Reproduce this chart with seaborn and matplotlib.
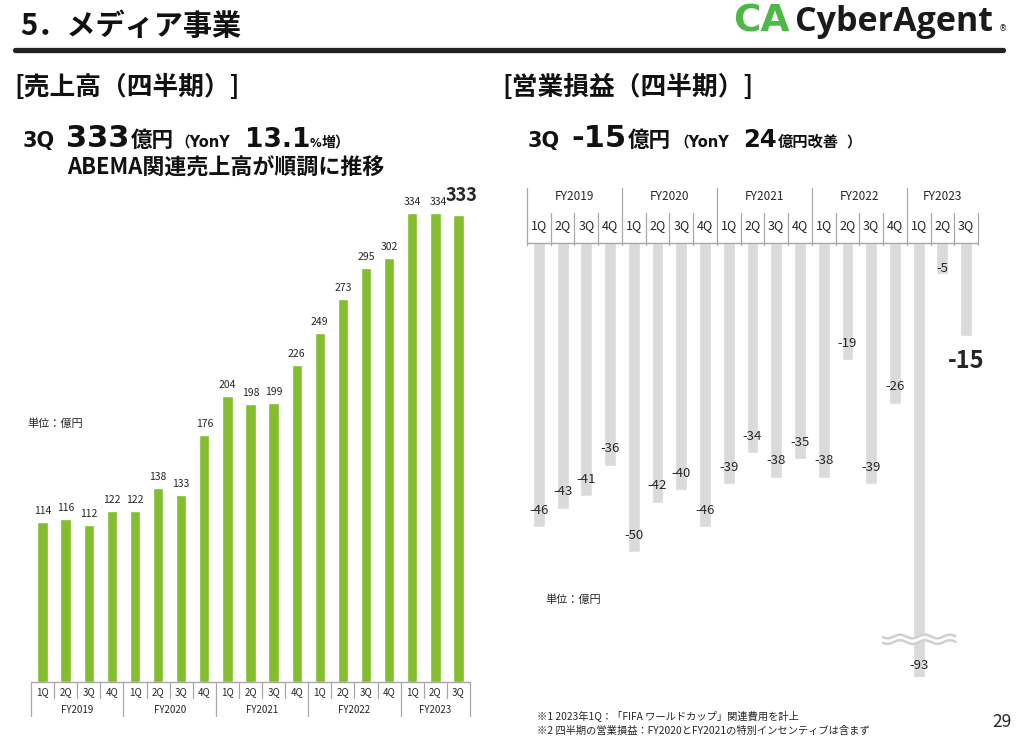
import matplotlib
matplotlib.use("Agg")
import matplotlib.pyplot as plt
import matplotlib.transforms as mtransforms
import numpy as np
import pandas as pd
import seaborn as sns

# data
fiscal_years = ["FY2019", "FY2020", "FY2021", "FY2022", "FY2023"]
quarters_per_year = [4, 4, 4, 4, 3]
quarter_names = ["1Q", "2Q", "3Q", "4Q"]
revenue = [114, 116, 112, 122, 122, 138, 133, 176, 204, 198, 199, 226,
           249, 273, 295, 302, 334, 334, 333]
op_income = [-46, -43, -41, -36, -50, -42, -40, -46, -39, -34, -38, -35,
             -38, -19, -39, -26, -93, -5, -15]

quarters = []
years = []
for fy, n in zip(fiscal_years, quarters_per_year):
    quarters += quarter_names[:n]
    years += [fy] * n
periods = [f"{y} {q}" for y, q in zip(years, quarters)]

df = pd.DataFrame({"period": periods, "fy": years, "quarter": quarters,
                   "revenue": revenue, "op_income": op_income})

sns.set_theme(style="white")
plt.rcParams["font.family"] = ["Noto Sans CJK JP", "DejaVu Sans"]
LATIN = ["DejaVu Sans", "Noto Sans CJK JP"]

W, H = 1019, 741
fig = plt.figure(figsize=(W / 100, H / 100), dpi=100)
fig.patch.set_facecolor("white")


def fx(x):
    return x / W


def fy(y):
    return 1 - y / H


GREEN = "#84BD2E"
GREY_BAR = "#DADADA"
SEP = "#A8A8A8"
INK = "#111111"

# ---------- header ----------
fig.text(fx(20), fy(35), "5．メディア事業", fontsize=21, fontweight="bold",
         va="baseline", color=INK)
fig.add_artist(plt.Line2D([fx(15), fx(1003)], [fy(50), fy(50)], color="#222222",
                          lw=3.8, transform=fig.transFigure))
fig.text(fx(790), fy(32), "CA", fontsize=27, fontweight="bold", color="#4DB848",
         ha="right", va="baseline", family=["DejaVu Sans"])
fig.text(fx(795), fy(31), "CyberAgent", fontsize=24.5, fontweight="bold",
         color="#1a1a1a", ha="left", va="baseline", family=["Open Sans", "DejaVu Sans"])
fig.text(fx(999), fy(31), "®", fontsize=6, ha="left", va="baseline", color="#1a1a1a",
         family=["DejaVu Sans"])

fig.text(fx(14), fy(87), "[売上高（四半期）]", fontsize=18.5, fontweight="bold",
         va="center", color=INK)
fig.text(fx(502), fy(87), "[営業損益（四半期）]", fontsize=18.5, fontweight="bold",
         va="center", color=INK)


def headline(y, pieces):
    # mixed-size pieces, each set at its own x on a common baseline
    for x, s, size in pieces:
        fig.text(fx(x), fy(y), s, fontsize=size, fontweight="bold",
                 va="baseline", ha="left", color=INK, family=LATIN)


headline(147, [(23, "3Q", 15), (66, "333", 22), (131, "億円", 15.5),
               (175, "（YonY", 10.5), (245, "13.1", 19),
               (310, "%", 8.5), (322, "増", 10), (334, "）", 10.5)])
fig.text(fx(67), fy(175), "ABEMA関連売上高が順調に推移", fontsize=15.8,
         fontweight="bold", va="baseline", color=INK)
headline(147, [(528, "3Q", 15), (571, "-15", 22), (628, "億円", 15.5),
               (674, "（YonY", 10.5), (743, "24", 17.5),
               (778, "億円改善", 11), (846, "）", 10.5)])

n = len(df)
year_edges = np.cumsum([0] + quarters_per_year) - 0.5
year_centers = [(a + b) / 2 for a, b in zip(year_edges[:-1], year_edges[1:])]

# ---------- left: revenue ----------
ax1 = fig.add_axes([fx(31), fy(682), 439 / W, 492 / H])
sns.barplot(data=df, x="period", y="revenue", order=periods, color=GREEN,
            saturation=1, width=0.45, errorbar=None, ax=ax1)
ax1.set_xlim(-0.5, n - 0.5)
ax1.set_ylim(0, 350.7)
ax1.axis("off")

for i, v in enumerate(revenue):
    if i == n - 1:
        ax1.annotate(f"{v}", (i, v), xytext=(2, 14), textcoords="offset points",
                     ha="center", va="center", fontsize=13, fontweight="bold")
    else:
        dx = 2 if i == n - 2 else 0
        ax1.annotate(f"{v}", (i, v), xytext=(dx, 8), textcoords="offset points",
                     ha="center", va="center", fontsize=7.5)

t1 = mtransforms.blended_transform_factory(ax1.transData, fig.transFigure)
ax1.plot([-0.5, n - 0.5], [fy(682), fy(682)], color=SEP, lw=1, transform=t1, clip_on=False)
for e in np.arange(-0.5, n, 1.0):
    bottom = 716 if e in year_edges else 698
    ax1.plot([e, e], [fy(682), fy(bottom)], color=SEP, lw=0.9, transform=t1, clip_on=False)
for i, q in enumerate(quarters):
    ax1.text(i, fy(692), q, transform=t1, ha="center", va="center", fontsize=7)
for c, y_ in zip(year_centers, fiscal_years):
    ax1.text(c, fy(710), y_, transform=t1, ha="center", va="center", fontsize=7)
fig.text(fx(27), fy(424), "単位：億円", fontsize=8, va="center")

# ---------- right: operating income ----------
ymin = -70.2
ax2 = fig.add_axes([fx(527), fy(677), 451 / W, 434 / H])
sns.barplot(data=df, x="period", y="op_income", order=periods, color=GREY_BAR,
            saturation=1, width=0.5, errorbar=None, ax=ax2)
ax2.set_xlim(-0.5, n - 0.5)
ax2.set_ylim(ymin, 0)
ax2.axis("off")

for i, v in enumerate(op_income):
    if i == n - 1:
        ax2.annotate(f"{v}", (i, v), xytext=(0, -18), textcoords="offset points",
                     ha="center", va="center", fontsize=17, fontweight="bold")
        continue
    y_ = max(v, ymin)
    dy = 3.6 if v > -10 else 12.2
    if v < ymin:
        dy = 8
    ax2.annotate(f"{v}", (i, y_), xytext=(0, dy), textcoords="offset points",
                 ha="center", va="center", fontsize=9.5)

# break marks on the clipped bar
k = int(np.argmin(op_income))
wx = np.linspace(k - 1.5, k + 1.55, 200)
wave = 0.3 * np.sin((wx - k) * 2 * np.pi / 1.05)
yb = -64.1
ax2.fill_between(wx, yb + 0.5 + wave, yb - 0.5 + wave, color="white", lw=0, zorder=3)
ax2.plot(wx, yb + 0.45 + wave, color="#D0D0D0", lw=1.8, zorder=4)
ax2.plot(wx, yb - 0.45 + wave, color="#D0D0D0", lw=1.8, zorder=4)

t2 = mtransforms.blended_transform_factory(ax2.transData, fig.transFigure)
ax2.plot([-0.5, n - 0.5], [fy(243), fy(243)], color=SEP, lw=1, transform=t2, clip_on=False)
for e in np.arange(-0.5, n, 1.0):
    top = 188 if (e in year_edges and e < n - 1) else 213
    ax2.plot([e, e], [fy(245), fy(top)], color=SEP, lw=0.9, transform=t2, clip_on=False)
for i, q in enumerate(quarters):
    ax2.text(i, fy(226), q, transform=t2, ha="center", va="center", fontsize=9)
for c, y_ in zip(year_centers, fiscal_years):
    ax2.text(c, fy(196), y_, transform=t2, ha="center", va="center", fontsize=8.5)
fig.text(fx(545), fy(600), "単位：億円", fontsize=8, va="center")

# ---------- footnotes ----------
fig.text(fx(537), fy(716), "※1 2023年1Q：「FIFA ワールドカップ」関連費用を計上",
         fontsize=7.4, va="center")
fig.text(fx(537), fy(731), "※2 四半期の営業損益：FY2020とFY2021の特別インセンティブは含まず",
         fontsize=7.4, va="center")
fig.text(fx(1012), fy(722), "29", fontsize=12.5, ha="right", va="center")

fig.savefig("out.png", dpi=100)
